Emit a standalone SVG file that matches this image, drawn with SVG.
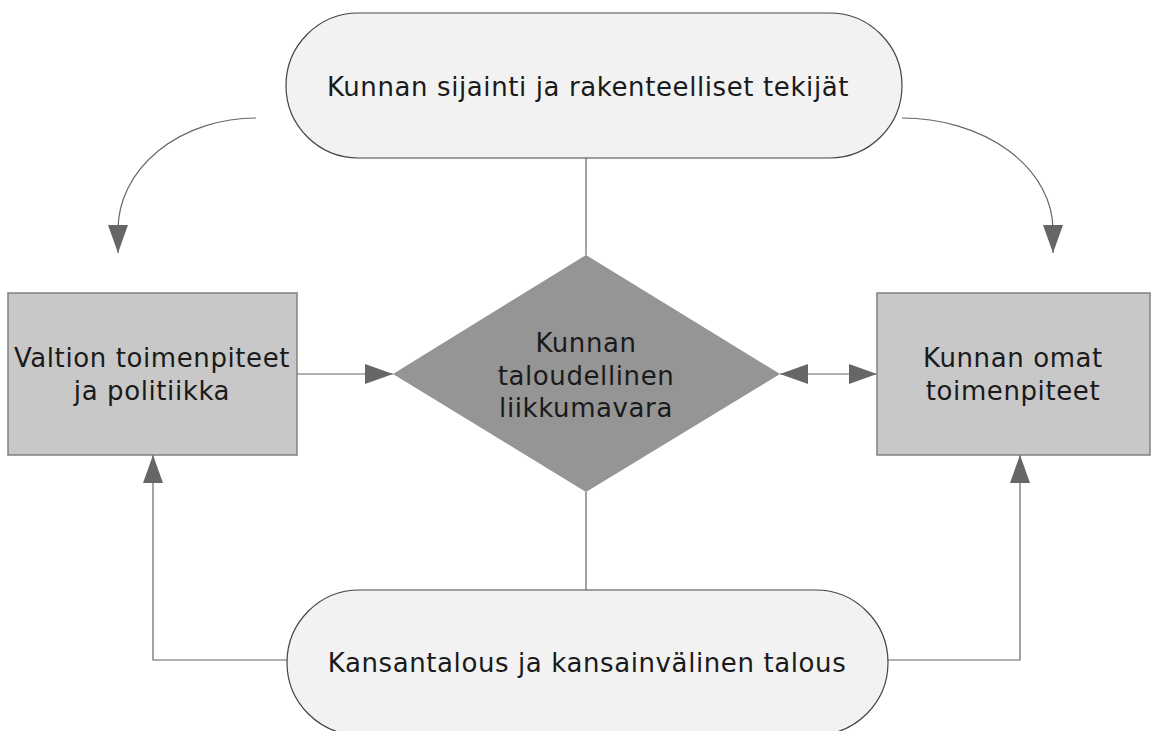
<svg xmlns="http://www.w3.org/2000/svg" width="1157" height="731" viewBox="0 0 1157 731">
<defs>
<style>
.pill{fill:#f2f2f2;stroke:#444;stroke-width:1.2}
.box{fill:#c8c8c8;stroke:#808080;stroke-width:1.5}
.dia{fill:#959595;stroke:none}
.t{font-family:"DejaVu Sans",Verdana,sans-serif;font-size:26px;letter-spacing:0.6px;fill:#1a1a1a;text-anchor:middle}
.c{fill:none;stroke:#666;stroke-width:1.2}
.ah{fill:#666}
</style>
<marker id="arr" viewBox="0 0 28 20" refX="28" refY="10" markerWidth="28" markerHeight="20" markerUnits="userSpaceOnUse" orient="auto-start-reverse">
<path d="M0,0 L28,10 L0,20 Z" class="ah"/>
</marker>
</defs>
<rect width="1157" height="731" fill="#fff"/>
<g id="connectors">
<line class="c" x1="586" y1="158" x2="586" y2="255"/>
<line class="c" x1="586" y1="492" x2="586" y2="590"/>
<line class="c" x1="297" y1="374" x2="393" y2="374" marker-end="url(#arr)"/>
<line class="c" x1="780" y1="374" x2="877" y2="374" marker-start="url(#arr)" marker-end="url(#arr)"/>
<polyline class="c" points="287,660 153,660 153,455" marker-end="url(#arr)"/>
<polyline class="c" points="888,660 1020,660 1020,455" marker-end="url(#arr)"/>
<path class="c" d="M256,118 A138,112 0 0 0 118,230 L118,253" marker-end="url(#arr)"/>
<path class="c" d="M902,118 A151,112 0 0 1 1053,230 L1053,253" marker-end="url(#arr)"/>
</g>
<g id="top">
<rect class="pill" x="286" y="13" width="616" height="145" rx="72.5"/>
<text class="t" x="588" y="96">Kunnan sijainti ja rakenteelliset tekijät</text>
</g>
<g id="diamond">
<polygon class="dia" points="586,255 780,374 586,492 393,374"/>
<text class="t" x="586" y="352">Kunnan</text>
<text class="t" x="586" y="385">taloudellinen</text>
<text class="t" x="586" y="417">liikkumavara</text>
</g>
<g id="left">
<rect class="box" x="8" y="293" width="289" height="162"/>
<text class="t" x="152" y="367">Valtion toimenpiteet</text>
<text class="t" x="152" y="400">ja politiikka</text>
</g>
<g id="right">
<rect class="box" x="877" y="293" width="273" height="162"/>
<text class="t" x="1013" y="367">Kunnan omat</text>
<text class="t" x="1013" y="400">toimenpiteet</text>
</g>
<g id="bottom">
<rect class="pill" x="287" y="590" width="601" height="145" rx="72.5"/>
<text class="t" x="587" y="672">Kansantalous ja kansainvälinen talous</text>
</g>
</svg>
